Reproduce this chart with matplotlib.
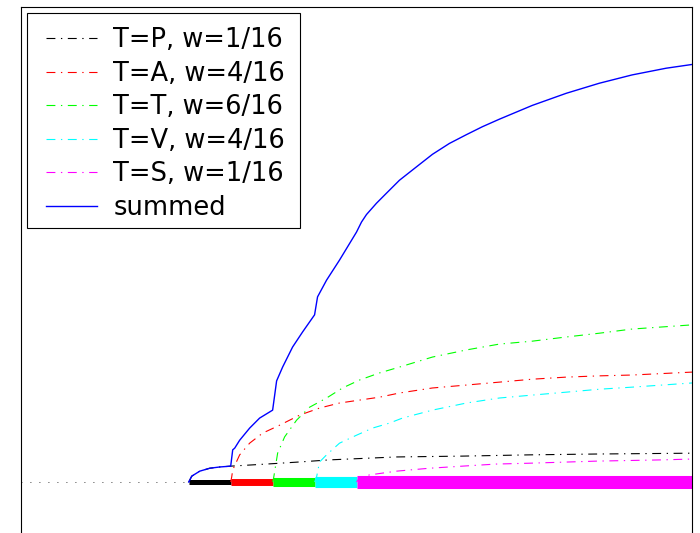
import matplotlib.pyplot as plt
from matplotlib.patches import Rectangle

# Per-class curves: x position, response value
x_p = [4.0, 4.071, 4.262, 4.5, 4.738, 5.0, 5.857, 6.643, 7.357, 8.952, 10.524, 12.119, 13.714, 16.0]
y_p = [0.0, 0.014, 0.026, 0.033, 0.036, 0.038, 0.043, 0.048, 0.053, 0.060, 0.062, 0.065, 0.067, 0.069]

x_a = [5.0, 5.024, 5.048, 5.214, 5.452, 5.762, 6.167, 6.643, 7.119, 7.595, 8.071, 8.548, 9.024,
       9.810, 10.619, 11.405, 12.190, 13.0, 13.786, 14.571, 16.0]
y_a = [0.0, 0.012, 0.029, 0.065, 0.093, 0.117, 0.136, 0.160, 0.177, 0.189, 0.196, 0.203, 0.213,
       0.225, 0.232, 0.239, 0.246, 0.251, 0.254, 0.256, 0.263]

x_t = [6.0, 6.024, 6.119, 6.286, 6.571, 6.881, 7.286, 7.667, 8.071, 8.548, 9.024, 9.810, 10.619,
       11.405, 12.190, 13.0, 13.786, 14.571, 16.0]
y_t = [0.0, 0.010, 0.069, 0.108, 0.148, 0.179, 0.201, 0.225, 0.244, 0.261, 0.275, 0.299, 0.316,
       0.330, 0.337, 0.347, 0.356, 0.366, 0.376]

x_v = [7.0, 7.048, 7.119, 7.286, 7.595, 8.0, 8.381, 8.786, 9.095, 9.810, 10.619, 11.405, 12.190,
       13.0, 13.786, 14.571, 16.0]
y_v = [0.0, 0.012, 0.048, 0.065, 0.093, 0.112, 0.129, 0.141, 0.153, 0.172, 0.189, 0.201, 0.208,
       0.215, 0.222, 0.227, 0.237]

x_s = [8.0, 8.071, 8.310, 8.952, 9.738, 10.524, 11.333, 12.119, 13.714, 15.286, 16.0]
y_s = [0.0, 0.010, 0.017, 0.026, 0.033, 0.038, 0.043, 0.045, 0.050, 0.053, 0.055]

x_sum = [4.0, 4.071, 4.262, 4.5, 4.738, 5.0, 5.048, 5.095, 5.214, 5.452, 5.690, 6.0, 6.095, 6.238,
         6.476, 6.714, 7.0, 7.071, 7.286, 7.595, 8.0, 8.119, 8.238, 8.476, 8.714, 9.024, 9.429,
         9.810, 10.214, 10.619, 11.0, 11.405, 12.190, 13.0, 13.786, 14.571, 15.381, 16.0]
y_sum = [0.0, 0.014, 0.026, 0.033, 0.036, 0.038, 0.077, 0.081, 0.100, 0.129, 0.153, 0.172, 0.242,
         0.275, 0.323, 0.359, 0.400, 0.443, 0.483, 0.531, 0.598, 0.622, 0.640, 0.667, 0.691, 0.722,
         0.754, 0.784, 0.810, 0.831, 0.850, 0.868, 0.901, 0.930, 0.954, 0.974, 0.990, 0.999]

labels = ['T=P, w=1/16', 'T=A, w=4/16', 'T=T, w=6/16', 'T=V, w=4/16', 'T=S, w=1/16']
colors = ['k', 'r', '#00ff00', '#00ffff', '#ff00ff']

# class intervals along the baseline
seg_edges = [4, 5, 6, 7, 8, 16]
seg_widths = [3.6, 5.0, 6.5, 8.0, 9.4]

plt.rcParams['font.family'] = ['DejaVu Sans']

W, H = 700, 533
fig = plt.figure(figsize=(W / 100, H / 100), dpi=100)
ax = fig.add_axes([0.03, -0.0507, 0.9586, 1.0375])

dashdot = (0, (8, 5, 1.2, 5))
curves = [(x_p, y_p), (x_a, y_a), (x_t, y_t), (x_v, y_v), (x_s, y_s)]
for (xs, ys), lab, c in zip(curves, labels, colors):
    ax.plot(xs, ys, linestyle=dashdot, color=c, linewidth=0.8, label=lab)
ax.plot(x_sum, y_sum, color='b', linewidth=1.0, label='summed')

ax.plot([0, seg_edges[0]], [0, 0], color='k', linestyle=(0, (1, 9.8)), linewidth=0.6)
for i, c in enumerate(colors):
    ax.plot([seg_edges[i], seg_edges[i + 1]], [0, 0], color=c, linewidth=seg_widths[i],
            solid_capstyle='butt', zorder=1)

ax.set_xlim(0, 16)
ax.set_ylim(-0.1866, 1.1364)
ax.set_xticks([])
ax.set_yticks([])
for s in ax.spines.values():
    s.set_linewidth(0.8)

# legend box drawn separately so the padding can be uneven
box = Rectangle((27 / W, 1 - 228 / H), 273 / W, 215 / H, transform=fig.transFigure,
                facecolor='white', edgecolor='k', linewidth=0.8, zorder=4.5, clip_on=False)
ax.add_patch(box)
ax.legend(loc='upper left', bbox_to_anchor=(3 / 671, 1 + 1.5 / 553), fontsize=18.5,
          frameon=False, borderaxespad=0.25, borderpad=0.6, labelspacing=0.29,
          handlelength=2.0, handletextpad=0.62)

fig.savefig('out.png', dpi=100)
